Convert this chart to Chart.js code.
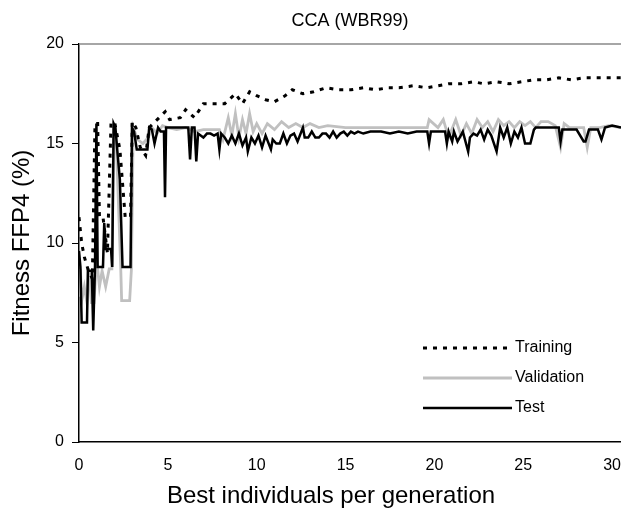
<!DOCTYPE html>
<html>
<head>
<meta charset="utf-8">
<script src="https://cdn.jsdelivr.net/npm/chart.js@4/dist/chart.umd.min.js"></script>
<style>
  html, body { margin: 0; padding: 0; background: #fff; }
  #wrap { width: 621px; height: 517px; }
</style>
</head>
<body>
<div id="wrap"><canvas id="ccaChart" width="621" height="517"></canvas></div>
<script>
/* ---------- DATA ---------- */
const xTicks = [0, 5, 10, 15, 20, 25, 30];
const yTicks = [0, 5, 10, 15, 20];

const trainX = [0, 0.15, 0.3, 0.5, 0.75, 0.9, 1.05, 1.15, 1.35, 1.6, 1.8, 2.0, 2.3, 2.6, 2.9, 3.0, 3.2, 3.45, 3.75, 3.95, 4.4, 4.85, 5.1, 5.7, 6.0, 6.5, 7.0, 7.6, 8.2, 8.8, 9.2, 9.6, 10.0, 10.5, 11.0, 11.6, 12.0, 12.6, 13.2, 13.9, 14.6, 15.3, 16.0, 16.7, 17.4, 18.0, 18.8, 19.6, 20.2, 20.8, 21.5, 22.2, 22.8, 23.5, 24.2, 24.9, 25.6, 26.3, 27.0, 27.7, 28.4, 29.1, 29.8, 30.5];
const trainY = [11.3, 10.0, 9.3, 8.7, 8.2, 16.0, 16.0, 11.3, 11.3, 9.5, 16.0, 16.1, 14.7, 11.3, 11.3, 16.1, 15.8, 14.8, 14.4, 15.8, 16.2, 16.6, 16.2, 16.3, 16.7, 16.3, 17.0, 17.0, 17.0, 17.5, 17.0, 17.6, 17.4, 17.2, 17.1, 17.4, 17.7, 17.5, 17.6, 17.8, 17.7, 17.7, 17.8, 17.7, 17.8, 17.8, 17.9, 17.8, 17.9, 18.0, 18.0, 18.1, 18.0, 18.1, 18.0, 18.1, 18.2, 18.2, 18.3, 18.2, 18.3, 18.3, 18.3, 18.3];

const valX = [0, 0.08, 0.15, 0.3, 0.45, 0.55, 0.7, 0.85, 0.95, 1.05, 1.15, 1.3, 1.5, 1.7, 1.85, 1.95, 2.1, 2.35, 2.4, 2.85, 2.95, 3.05, 3.3, 3.6, 3.9, 4.1, 4.4, 4.7, 5.0, 5.5, 6.0, 6.5, 7.0, 7.5, 7.9, 8.1, 8.4, 8.6, 8.8, 9.0, 9.2, 9.4, 9.6, 9.8, 10.0, 10.3, 10.6, 11.0, 11.4, 11.8, 12.2, 12.6, 13.0, 13.5, 14.0, 15, 16, 17, 18, 19, 19.6, 19.7, 20.2, 20.5, 20.8, 21.2, 21.5, 21.8, 22.1, 22.4, 22.7, 23.0, 23.3, 23.6, 23.9, 24.2, 24.5, 24.8, 25.1, 25.4, 25.7, 26.0, 26.4, 26.8, 27.1, 27.3, 27.6, 28.0, 28.4, 28.6, 28.8, 29.3, 29.8, 30.5];
const valY = [7.3, 8.7, 7.1, 7.8, 7.0, 8.6, 7.0, 7.0, 8.7, 8.7, 7.8, 8.6, 7.8, 8.7, 8.7, 15.6, 15.0, 8.7, 7.1, 7.1, 8.7, 15.8, 15.2, 15.0, 15.3, 15.8, 15.5, 15.9, 15.8, 15.7, 15.8, 15.6, 15.7, 15.7, 15.7, 15.2, 16.3, 15.4, 16.5, 15.3, 16.2, 15.5, 16.5, 15.6, 16.0, 15.5, 16.0, 15.7, 16.1, 15.8, 16.0, 15.8, 16.0, 15.8, 15.9, 15.8, 15.8, 15.8, 15.8, 15.8, 15.8, 16.2, 15.8, 16.2, 15.3, 16.2, 15.4, 16.0, 15.5, 16.2, 15.8, 16.1, 15.6, 16.2, 15.9, 16.1, 15.8, 16.1, 15.9, 16.1, 15.8, 16.1, 16.1, 15.9, 14.8, 16.0, 15.8, 15.8, 15.8, 14.8, 15.8, 15.8, 15.9, 15.8];

const testX = [0, 0.08, 0.15, 0.45, 0.5, 0.72, 0.8, 0.9, 0.98, 1.05, 1.35, 1.42, 1.5, 1.8, 1.87, 1.95, 2.05, 2.15, 2.3, 2.45, 2.9, 2.98, 3.1, 3.25, 3.6, 3.85, 3.95, 4.1, 4.25, 4.45, 4.6, 4.78, 4.84, 4.9, 6.15, 6.25, 6.35, 6.5, 6.6, 6.7, 7.0, 7.2, 7.4, 7.6, 7.8, 7.9, 8.0, 8.2, 8.4, 8.6, 8.8, 9.0, 9.2, 9.4, 9.5, 9.7, 9.9, 10.1, 10.3, 10.5, 10.8, 10.9, 11.1, 11.3, 11.5, 11.7, 11.9, 12.1, 12.3, 12.6, 12.7, 12.9, 13.1, 13.3, 13.5, 13.7, 13.9, 14.1, 14.3, 14.5, 14.7, 14.9, 15.1, 15.3, 15.5, 15.7, 16.0, 16.4, 17.0, 17.5, 18.0, 18.5, 19.0, 19.6, 19.7, 19.8, 20.6, 20.7, 20.8, 21.0, 21.1, 21.3, 21.6, 21.9, 22.0, 22.2, 22.4, 22.6, 22.8, 23.0, 23.2, 23.5, 23.7, 23.9, 24.1, 24.3, 24.5, 24.7, 24.9, 25.1, 25.4, 25.6, 25.7, 26.0, 26.5, 27.0, 27.1, 27.2, 27.4, 28.0, 28.4, 28.5, 28.7, 29.2, 29.4, 29.6, 30.0, 30.5];
const testY = [9.6, 8.8, 6.0, 6.0, 8.6, 8.6, 5.6, 8.8, 16.0, 8.8, 8.8, 11.0, 9.7, 9.7, 8.8, 16.0, 15.8, 14.7, 13.2, 8.8, 8.8, 15.8, 15.6, 14.7, 14.7, 14.7, 15.8, 15.7, 15.0, 15.8, 15.6, 15.6, 12.3, 15.8, 15.8, 14.2, 15.8, 15.8, 14.1, 15.5, 15.3, 15.5, 15.5, 15.4, 15.5, 14.7, 15.5, 15.3, 15.0, 15.4, 15.0, 15.5, 14.9, 15.3, 14.6, 15.3, 15.0, 15.4, 14.8, 15.4, 14.7, 15.2, 15.0, 15.0, 15.5, 15.0, 15.4, 15.5, 15.1, 15.8, 15.3, 15.3, 15.6, 15.3, 15.3, 15.5, 15.5, 15.3, 15.6, 15.3, 15.5, 15.6, 15.4, 15.6, 15.5, 15.6, 15.5, 15.6, 15.6, 15.5, 15.6, 15.5, 15.6, 15.6, 15.0, 15.6, 15.6, 15.0, 15.6, 15.1, 15.6, 15.1, 15.6, 14.6, 15.3, 15.5, 15.4, 15.7, 15.2, 15.7, 15.4, 14.6, 15.8, 15.3, 15.8, 15.0, 15.6, 15.3, 15.8, 15.0, 15.0, 15.7, 15.8, 15.8, 15.8, 15.8, 15.1, 15.7, 15.7, 15.7, 15.1, 15.1, 15.7, 15.7, 15.2, 15.8, 15.9, 15.8];

const seriesNames = ["Training", "Validation", "Test"];

/* ---------- HELPERS ---------- */
function pairs(xs, ys) {
  return xs.map((x, i) => ({ x: x, y: ys[i] }));
}

const FONT = "'Liberation Sans', Arial, sans-serif";

/* ---------- PLUGIN: frame top, x title, legend ---------- */
const extras = {
  id: "extras",
  afterDraw(c) {
    const ctx = c.ctx;
    const a = c.chartArea;
    ctx.save();
    // grey frame on top of the plot
    ctx.strokeStyle = "#888";
    ctx.lineWidth = 1.5;
    ctx.beginPath();
    ctx.moveTo(a.left, a.top);
    ctx.lineTo(a.right, a.top);
    ctx.stroke();

    // x axis title
    ctx.fillStyle = "#000";
    ctx.font = "24px " + FONT;
    ctx.textAlign = "center";
    ctx.textBaseline = "middle";
    ctx.fillText("Best individuals per generation", 331, 496);

    // legend inside the plot
    const rows = [348, 378, 408];
    ctx.font = "16px " + FONT;
    ctx.textAlign = "left";
    c.data.datasets.forEach((ds) => {
      const i = seriesNames.indexOf(ds.label);
      const y = rows[i];
      ctx.strokeStyle = ds.borderColor;
      ctx.lineWidth = ds.borderWidth;
      ctx.setLineDash(ds.borderDash || []);
      ctx.beginPath();
      ctx.moveTo(423, y);
      ctx.lineTo(512, y);
      ctx.stroke();
      ctx.setLineDash([]);
      ctx.fillStyle = "#000";
      ctx.fillText(ds.label, 515, y);
    });
    ctx.restore();
  }
};

/* ---------- CHART ---------- */
new Chart(document.getElementById("ccaChart"), {
  type: "line",
  data: {
    datasets: [
      {
        label: seriesNames[0],
        data: pairs(trainX, trainY),
        borderColor: "#000",
        borderWidth: 3,
        borderDash: [4, 6],
        order: 0
      },
      {
        label: seriesNames[1],
        data: pairs(valX, valY),
        borderColor: "#c0c0c0",
        borderWidth: 2.8,
        order: 2
      },
      {
        label: seriesNames[2],
        data: pairs(testX, testY),
        borderColor: "#000",
        borderWidth: 2.5,
        order: 1
      }
    ]
  },
  options: {
    responsive: false,
    animation: false,
    elements: { point: { radius: 0 }, line: { tension: 0 } },
    layout: { padding: { left: 0, right: 0, top: 0, bottom: 0 } },
    plugins: {
      legend: { display: false },
      tooltip: { enabled: false },
      title: {
        display: true,
        text: "CCA (WBR99)",
        fullSize: false,
        color: "#000",
        font: { family: FONT, size: 18, weight: "normal", lineHeight: 1.2 },
        padding: { top: 10, bottom: 12.4 }
      }
    },
    scales: {
      x: {
        type: "linear",
        min: 0,
        max: 30.5,
        afterBuildTicks: (s) => { s.ticks = xTicks.map(v => ({ value: v })); },
        afterFit: (s) => { s.height = 75; s.paddingRight = 0; },
        grid: { display: false, drawTicks: false },
        border: { display: true, color: "#000", width: 1.5 },
        ticks: { color: "#000", padding: 14, maxRotation: 0, font: { family: FONT, size: 16 } }
      },
      y: {
        min: 0,
        max: 20,
        afterBuildTicks: (s) => { s.ticks = yTicks.map(v => ({ value: v })); },
        afterFit: (s) => { s.width = 79; },
        grid: { drawOnChartArea: false, drawTicks: true, tickLength: 7, color: "#000", lineWidth: 1 },
        border: { display: true, color: "#000", width: 1.5 },
        ticks: { color: "#000", padding: 8, font: { family: FONT, size: 16 } },
        title: {
          display: true,
          text: "Fitness FFP4 (%)",
          color: "#000",
          font: { family: FONT, size: 24 },
          padding: { top: 8, bottom: 0 }
        }
      }
    }
  },
  plugins: [extras]
});
</script>
</body>
</html>
